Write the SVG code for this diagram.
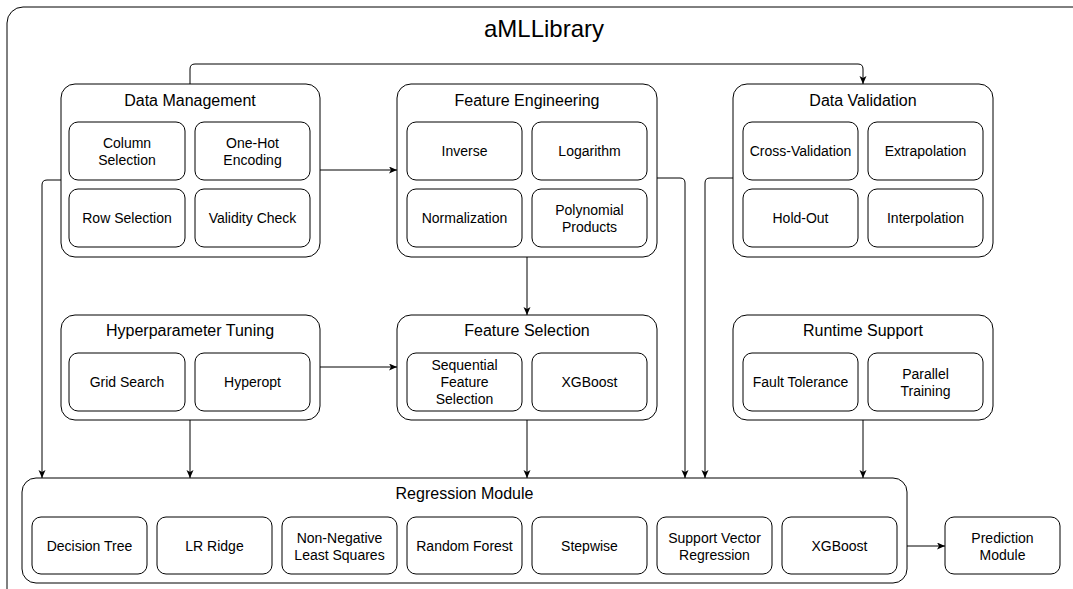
<svg xmlns="http://www.w3.org/2000/svg" width="1073" height="589" viewBox="0 0 1073 589">
<style>
.outer{fill:#fff;stroke:#000;stroke-width:1}
.cont{fill:#fff;stroke:#000;stroke-width:1}
.sub{fill:#fff;stroke:#000;stroke-width:1}
.t{font-family:"Liberation Sans",Arial,sans-serif;fill:#000;text-anchor:middle}
.big{font-size:24px}
.ttl{font-size:16px}
.lbl{font-size:14px}
.conn path{fill:none;stroke:#000;stroke-width:1}
</style>
<defs>
<marker id="arr" markerUnits="userSpaceOnUse" markerWidth="10" markerHeight="8" refX="8" refY="3.5" orient="auto">
<path d="M0,0 L8,3.5 L0,7 L2,3.5 z" fill="#000"/>
</marker>
</defs>
<rect width="1073" height="589" fill="#fff"/>
<g id="aMLLibrary">
<rect class="outer" x="7" y="7" width="1085" height="600" rx="16"/>
<text class="t big" x="544" y="37">aMLLibrary</text>
</g>
<g id="data-management">
<rect class="cont" x="61" y="84" width="259" height="173" rx="14"/>
<text class="t ttl" x="190" y="106">Data Management</text>
<rect class="sub" x="69" y="122" width="116" height="58" rx="9"/>
<text class="t lbl" x="127" y="148">Column</text>
<text class="t lbl" x="127" y="165">Selection</text>
<rect class="sub" x="195" y="122" width="115" height="58" rx="9"/>
<text class="t lbl" x="252.5" y="148">One-Hot</text>
<text class="t lbl" x="252.5" y="165">Encoding</text>
<rect class="sub" x="69" y="189" width="116" height="58" rx="9"/>
<text class="t lbl" x="127" y="223">Row Selection</text>
<rect class="sub" x="195" y="189" width="115" height="58" rx="9"/>
<text class="t lbl" x="252.5" y="223">Validity Check</text>
</g>
<g id="feature-engineering">
<rect class="cont" x="397" y="84" width="260" height="173" rx="14"/>
<text class="t ttl" x="527" y="106">Feature Engineering</text>
<rect class="sub" x="407" y="122" width="115" height="58" rx="9"/>
<text class="t lbl" x="464.5" y="156">Inverse</text>
<rect class="sub" x="532" y="122" width="115" height="58" rx="9"/>
<text class="t lbl" x="589.5" y="156">Logarithm</text>
<rect class="sub" x="407" y="189" width="115" height="58" rx="9"/>
<text class="t lbl" x="464.5" y="223">Normalization</text>
<rect class="sub" x="532" y="189" width="115" height="58" rx="9"/>
<text class="t lbl" x="589.5" y="215">Polynomial</text>
<text class="t lbl" x="589.5" y="232">Products</text>
</g>
<g id="data-validation">
<rect class="cont" x="733" y="84" width="260" height="173" rx="14"/>
<text class="t ttl" x="863" y="106">Data Validation</text>
<rect class="sub" x="743" y="122" width="115" height="58" rx="9"/>
<text class="t lbl" x="800.5" y="156">Cross-Validation</text>
<rect class="sub" x="868" y="122" width="115" height="58" rx="9"/>
<text class="t lbl" x="925.5" y="156">Extrapolation</text>
<rect class="sub" x="743" y="189" width="115" height="58" rx="9"/>
<text class="t lbl" x="800.5" y="223">Hold-Out</text>
<rect class="sub" x="868" y="189" width="115" height="58" rx="9"/>
<text class="t lbl" x="925.5" y="223">Interpolation</text>
</g>
<g id="hyperparameter-tuning">
<rect class="cont" x="61" y="315" width="259" height="105" rx="14"/>
<text class="t ttl" x="190" y="336">Hyperparameter Tuning</text>
<rect class="sub" x="69" y="353" width="116" height="58" rx="9"/>
<text class="t lbl" x="127" y="387">Grid Search</text>
<rect class="sub" x="195" y="353" width="115" height="58" rx="9"/>
<text class="t lbl" x="252.5" y="387">Hyperopt</text>
</g>
<g id="feature-selection">
<rect class="cont" x="397" y="315" width="260" height="105" rx="14"/>
<text class="t ttl" x="527" y="336">Feature Selection</text>
<rect class="sub" x="407" y="353" width="115" height="58" rx="9"/>
<text class="t lbl" x="464.5" y="370">Sequential</text>
<text class="t lbl" x="464.5" y="387">Feature</text>
<text class="t lbl" x="464.5" y="404">Selection</text>
<rect class="sub" x="532" y="353" width="115" height="58" rx="9"/>
<text class="t lbl" x="589.5" y="387">XGBoost</text>
</g>
<g id="runtime-support">
<rect class="cont" x="733" y="315" width="260" height="105" rx="14"/>
<text class="t ttl" x="863" y="336">Runtime Support</text>
<rect class="sub" x="743" y="353" width="115" height="58" rx="9"/>
<text class="t lbl" x="800.5" y="387">Fault Tolerance</text>
<rect class="sub" x="868" y="353" width="115" height="58" rx="9"/>
<text class="t lbl" x="925.5" y="379">Parallel</text>
<text class="t lbl" x="925.5" y="396">Training</text>
</g>
<g id="regression-module">
<rect class="cont" x="22" y="478" width="885" height="105" rx="14"/>
<text class="t ttl" x="464.5" y="499">Regression Module</text>
<rect class="sub" x="32" y="517" width="115" height="57" rx="9"/>
<text class="t lbl" x="89.5" y="551">Decision Tree</text>
<rect class="sub" x="157" y="517" width="115" height="57" rx="9"/>
<text class="t lbl" x="214.5" y="551">LR Ridge</text>
<rect class="sub" x="282" y="517" width="115" height="57" rx="9"/>
<text class="t lbl" x="339.5" y="543">Non-Negative</text>
<text class="t lbl" x="339.5" y="560">Least Squares</text>
<rect class="sub" x="407" y="517" width="115" height="57" rx="9"/>
<text class="t lbl" x="464.5" y="551">Random Forest</text>
<rect class="sub" x="532" y="517" width="115" height="57" rx="9"/>
<text class="t lbl" x="589.5" y="551">Stepwise</text>
<rect class="sub" x="657" y="517" width="115" height="57" rx="9"/>
<text class="t lbl" x="714.5" y="543">Support Vector</text>
<text class="t lbl" x="714.5" y="560">Regression</text>
<rect class="sub" x="782" y="517" width="115" height="57" rx="9"/>
<text class="t lbl" x="839.5" y="551">XGBoost</text>
</g>
<g id="prediction-module">
<rect class="sub" x="945" y="517" width="115" height="57" rx="9"/>
<text class="t lbl" x="1002.5" y="543">Prediction</text>
<text class="t lbl" x="1002.5" y="560">Module</text>
</g>
<g id="connectors" class="conn">
<path d="M190 84 V69 Q190 64 195 64 H858 Q863 64 863 69 V84" marker-end="url(#arr)"/>
<path d="M320 170 H397" marker-end="url(#arr)"/>
<path d="M61 180 H47 Q42 180 42 185 V478" marker-end="url(#arr)"/>
<path d="M527 257 V315" marker-end="url(#arr)"/>
<path d="M657 178 H680 Q685 178 685 183 V478" marker-end="url(#arr)"/>
<path d="M733 178 H710 Q705 178 705 183 V478" marker-end="url(#arr)"/>
<path d="M320 367 H397" marker-end="url(#arr)"/>
<path d="M190 420 V478" marker-end="url(#arr)"/>
<path d="M527 420 V478" marker-end="url(#arr)"/>
<path d="M863 420 V478" marker-end="url(#arr)"/>
<path d="M907 546 H945" marker-end="url(#arr)"/>
</g>
</svg>
